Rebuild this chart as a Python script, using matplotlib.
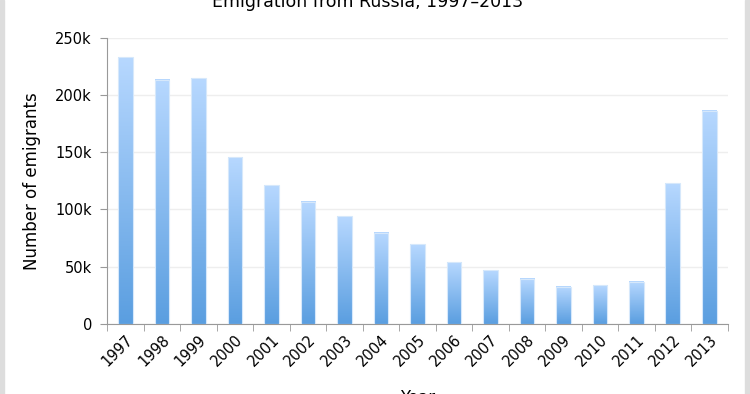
import numpy as np
import matplotlib.pyplot as plt
from matplotlib.colors import LinearSegmentedColormap
from matplotlib.patches import Rectangle

years = ["1997", "1998", "1999", "2000", "2001", "2002", "2003", "2004", "2005",
         "2006", "2007", "2008", "2009", "2010", "2011", "2012", "2013"]
emigrants = [232987, 213377, 214963, 145720, 121166, 106685, 94018, 79795, 69798,
             54061, 47013, 39508, 32458, 33578, 36774, 122751, 186382]
y_ticks = [0, 50000, 100000, 150000, 200000, 250000]
y_tick_labels = ["0", "50k", "100k", "150k", "200k", "250k"]

plt.rcParams["font.family"] = ["DejaVu Sans"]

fig = plt.figure(figsize=(7.5, 3.94), dpi=100)
ax = fig.add_axes([0.143, 0.178, 0.827, 0.726])

x = np.arange(len(years))
bars = ax.bar(x, emigrants, width=0.4, color="none", edgecolor="#d6e8fb",
              linewidth=0.8, zorder=3)

# vertical gradient fill, light at top, darker at bottom
cmap = LinearSegmentedColormap.from_list("blu", ["#5a9ee0", "#b7d8ff"])
grad = np.linspace(0, 1, 256).reshape(-1, 1)
for b in bars:
    x0, w, h = b.get_x(), b.get_width(), b.get_height()
    ax.imshow(grad, cmap=cmap, origin="lower", aspect="auto",
              extent=[x0, x0 + w, 0, h], zorder=2)

ax.set_xlim(-0.5, len(years) - 0.5)
ax.set_ylim(0, 250000)
ax.set_yticks(y_ticks)
ax.set_yticklabels(y_tick_labels, fontsize=10.5)
ax.set_xticks(x)
ax.set_xticklabels(years, rotation=45, ha="right", rotation_mode="anchor", fontsize=10.5)
ax.tick_params(axis="x", length=0, pad=6)
ax.set_xticks(np.arange(len(years) + 1) - 0.5, minor=True)
ax.tick_params(axis="x", which="minor", length=5, color="#999999")
ax.tick_params(axis="y", length=5, color="#999999", pad=6)

ax.grid(axis="y", color="#eeeeee", linewidth=1, zorder=0)
ax.set_axisbelow(True)
for s in ["top", "right"]:
    ax.spines[s].set_visible(False)
for s in ["left", "bottom"]:
    ax.spines[s].set_color("#999999")

ax.set_ylabel("Number of emigrants", fontsize=12, labelpad=10)
ax.set_xlabel("Year", fontsize=12, labelpad=14)
fig.text(0.49, 0.995, "Emigration from Russia, 1997–2013", ha="center", va="center",
         fontsize=12.5)

# light gray frame at left and right edges
fig.patches.append(Rectangle((0, 0), 0.005, 1, transform=fig.transFigure,
                             color="#dddddd", zorder=0))
fig.patches.append(Rectangle((0.993, 0), 0.007, 1, transform=fig.transFigure,
                             color="#dddddd", zorder=0))

fig.savefig("out.png", dpi=100)
